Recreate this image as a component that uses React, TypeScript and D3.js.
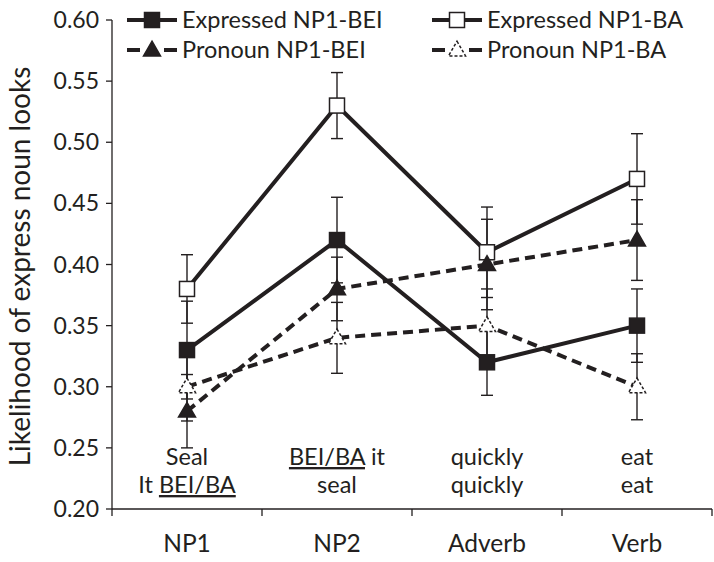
import React from "react";
import * as d3 from "d3";

const categories = ["NP1", "NP2", "Adverb", "Verb"];
const exprBEI = [0.33, 0.42, 0.32, 0.35];
const exprBEIErr = [0.04, 0.035, 0.027, 0.03];
const exprBA = [0.38, 0.53, 0.41, 0.47];
const exprBAErr = [0.028, 0.027, 0.037, 0.037];
const pronBEI = [0.28, 0.38, 0.40, 0.42];
const pronBEIErr = [0.03, 0.026, 0.037, 0.033];
const pronBA = [0.30, 0.34, 0.35, 0.30];
const pronBAErr = [0.028, 0.029, 0.03, 0.027];
const yTicks = [0.2, 0.25, 0.3, 0.35, 0.4, 0.45, 0.5, 0.55, 0.6];
// annotation lines under each category: [text, underlined?] segments
const annot1: [string, boolean][][] = [
  [["Seal", false]],
  [["BEI/BA", true], [" it", false]],
  [["quickly", false]],
  [["eat", false]],
];
const annot2: [string, boolean][][] = [
  [["It ", false], ["BEI/BA", true]],
  [["seal", false]],
  [["quickly", false]],
  [["eat", false]],
];

type Series = {
  name: string;
  values: number[];
  errs: number[];
  dashed: boolean;
  shape: "square" | "triangle";
  filled: boolean;
};

const series: Series[] = [
  { name: "Expressed NP1-BEI", values: exprBEI, errs: exprBEIErr, dashed: false, shape: "square", filled: true },
  { name: "Expressed NP1-BA", values: exprBA, errs: exprBAErr, dashed: false, shape: "square", filled: false },
  { name: "Pronoun NP1-BEI", values: pronBEI, errs: pronBEIErr, dashed: true, shape: "triangle", filled: true },
  { name: "Pronoun NP1-BA", values: pronBA, errs: pronBAErr, dashed: true, shape: "triangle", filled: false },
];

const FONT = "Lato, 'Open Sans', sans-serif";
const INK = "#231f20";

function Marker({ s, x, y }: { s: Series; x: number; y: number }) {
  if (s.shape === "square") {
    return (
      <rect x={x - 7.5} y={y - 7.5} width={15} height={15}
        fill={s.filled ? INK : "#fff"} stroke={INK} strokeWidth={1.5} />
    );
  }
  const path = d3.symbol().type(d3.symbolTriangle).size(125)();
  return (
    <path d={path || ""} transform={`translate(${x},${y + 1})`}
      fill={s.filled ? INK : "#fff"} stroke={INK}
      strokeWidth={1.5} strokeDasharray={s.filled ? undefined : "3,2"} />
  );
}

export default function App() {
  const W = 714, H = 562;
  const x = d3.scaleBand().domain(categories).range([112, 712]);
  const cx = (c: string) => (x(c) as number) + x.bandwidth() / 2;
  const y = d3.scaleLinear().domain([0.2, 0.6]).range([509, 20]);
  const line = d3.line<number>().x((_, i) => cx(categories[i])).y((v) => y(v));
  const dash = "10,6";

  const legendPos = [
    { x: 127, y: 20 },
    { x: 432, y: 20 },
    { x: 127, y: 50 },
    { x: 432, y: 50 },
  ];

  return (
    <svg width={W} height={H} style={{ position: "absolute", left: 0, top: 0, background: "#fff" }}
      fontFamily={FONT}>
      <rect width={W} height={H} fill="#fff" />
      {/* y axis */}
      <line x1={112} x2={112} y1={y(0.6)} y2={y(0.2)} stroke={INK} strokeWidth={1.3} />
      {yTicks.map((t) => (
        <g key={t}>
          <line x1={106} x2={112} y1={y(t)} y2={y(t)} stroke={INK} strokeWidth={1.3} />
          <text x={99} y={y(t)} dy="0.35em" textAnchor="end" fontSize={23} fill={INK}>
            {d3.format(".2f")(t)}
          </text>
        </g>
      ))}
      <text transform={`translate(30,${(y(0.6) + y(0.2)) / 2 + 2}) rotate(-90)`} textAnchor="middle"
        fontSize={28} fill={INK}>
        Likelihood of express noun looks
      </text>
      {/* x axis */}
      <line x1={112} x2={712} y1={y(0.2)} y2={y(0.2)} stroke={INK} strokeWidth={1.3} />
      {[112, ...categories.map((c) => (x(c) as number) + x.bandwidth())].map((t) => (
        <line key={t} x1={t} x2={t} y1={y(0.2)} y2={y(0.2) + 7} stroke={INK} strokeWidth={1.3} />
      ))}
      {categories.map((c) => (
        <text key={c} x={cx(c)} y={552} textAnchor="middle" fontSize={24.5} fill={INK}>{c}</text>
      ))}
      {/* annotations */}
      {categories.map((c, i) => (
        <g key={"a" + c}>
          <text x={cx(c)} y={465} textAnchor="middle" fontSize={23.5} fill={INK}>
            {annot1[i].map(([t, u], k) => (
              <tspan key={k} style={u ? { textDecoration: "underline" } : undefined}>{t}</tspan>
            ))}
          </text>
          <text x={cx(c)} y={493} textAnchor="middle" fontSize={23.5} fill={INK}>
            {annot2[i].map(([t, u], k) => (
              <tspan key={k} style={u ? { textDecoration: "underline" } : undefined}>{t}</tspan>
            ))}
          </text>
        </g>
      ))}
      {/* error bars */}
      {series.map((s) =>
        s.values.map((v, i) => {
          const px = cx(categories[i]);
          const lo = y(v - s.errs[i]);
          const hi = y(v + s.errs[i]);
          return (
            <g key={s.name + i} stroke={INK} strokeWidth={1.4}>
              <line x1={px} x2={px} y1={lo} y2={hi} />
              <line x1={px - 6} x2={px + 6} y1={lo} y2={lo} />
              <line x1={px - 6} x2={px + 6} y1={hi} y2={hi} />
            </g>
          );
        })
      )}
      {/* lines */}
      {series.map((s) => (
        <path key={"l" + s.name} d={line(s.values) || ""} fill="none" stroke={INK}
          strokeWidth={4} strokeDasharray={s.dashed ? dash : undefined} />
      ))}
      {/* markers */}
      {series.map((s) =>
        s.values.map((v, i) => <Marker key={"m" + s.name + i} s={s} x={cx(categories[i])} y={y(v)} />)
      )}
      {/* legend */}
      {series.map((s, k) => {
        const p = legendPos[k];
        return (
          <g key={"lg" + s.name}>
            {s.dashed ? (
              <>
                <line x1={p.x} x2={p.x + 13} y1={p.y} y2={p.y} stroke={INK} strokeWidth={4} />
                <line x1={p.x + 37} x2={p.x + 50} y1={p.y} y2={p.y} stroke={INK} strokeWidth={4} />
              </>
            ) : (
              <line x1={p.x} x2={p.x + 50} y1={p.y} y2={p.y} stroke={INK} strokeWidth={4} />
            )}
            <Marker s={s} x={p.x + 25} y={p.y} />
            <text x={p.x + 55} y={p.y} dy="0.35em" fontSize={23.5} fill={INK}>{s.name}</text>
          </g>
        );
      })}
    </svg>
  );
}
